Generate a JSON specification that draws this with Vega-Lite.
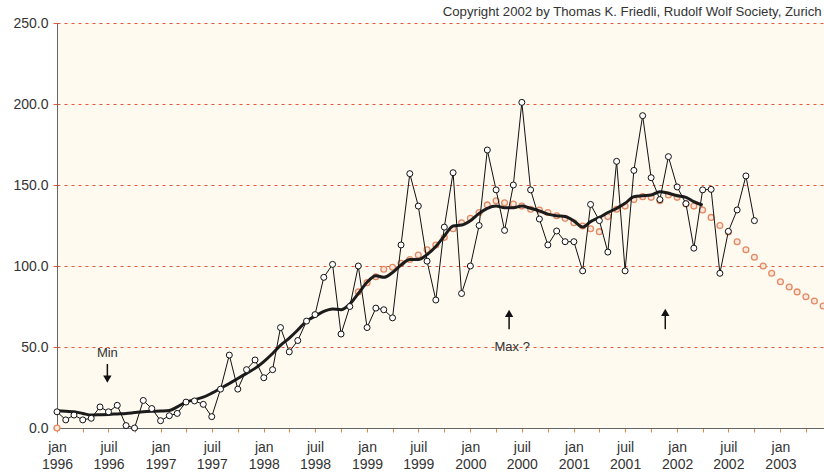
{
  "$schema": "https://vega.github.io/schema/vega-lite/v6.json",
  "width": 767,
  "height": 405,
  "autosize": {"type": "none"},
  "padding": {"left": 57, "top": 23, "right": 0, "bottom": 44},
  "background": "#ffffff",
  "title": {"text": "Copyright 2002 by Thomas K. Friedli, Rudolf Wolf Society, Zurich", "anchor": "end", "fontSize": 13.2, "fontWeight": "normal", "color": "#333333", "font": "Liberation Sans", "offset": 6, "dy": 9, "dx": -7},
  "config": {
    "view": {"fill": "#fffaf0", "stroke": null},
    "axis": {"labelFont": "Liberation Sans", "labelColor": "#333333", "domainColor": "#666666"}
  },
  "datasets": {
    "monthly": [
      {"date":"1996-01-01","v":10},{"date":"1996-02-01","v":5},{"date":"1996-03-01","v":8},{"date":"1996-04-01","v":5},{"date":"1996-05-01","v":6},{"date":"1996-06-01","v":13},{"date":"1996-07-01","v":10},{"date":"1996-08-01","v":14},{"date":"1996-09-01","v":1.5},{"date":"1996-10-01","v":0},{"date":"1996-11-01","v":17},{"date":"1996-12-01","v":12},
      {"date":"1997-01-01","v":4.5},{"date":"1997-02-01","v":7.6},{"date":"1997-03-01","v":9},{"date":"1997-04-01","v":16},{"date":"1997-05-01","v":16.7},{"date":"1997-06-01","v":14.6},{"date":"1997-07-01","v":7},{"date":"1997-08-01","v":24},{"date":"1997-09-01","v":45},{"date":"1997-10-01","v":24},{"date":"1997-11-01","v":36},{"date":"1997-12-01","v":42},
      {"date":"1998-01-01","v":31},{"date":"1998-02-01","v":36},{"date":"1998-03-01","v":62},{"date":"1998-04-01","v":47},{"date":"1998-05-01","v":54},{"date":"1998-06-01","v":66},{"date":"1998-07-01","v":70},{"date":"1998-08-01","v":93},{"date":"1998-09-01","v":101},{"date":"1998-10-01","v":58},{"date":"1998-11-01","v":75},{"date":"1998-12-01","v":100},
      {"date":"1999-01-01","v":62},{"date":"1999-02-01","v":74},{"date":"1999-03-01","v":73},{"date":"1999-04-01","v":68},{"date":"1999-05-01","v":113},{"date":"1999-06-01","v":157},{"date":"1999-07-01","v":137},{"date":"1999-08-01","v":103},{"date":"1999-09-01","v":79},{"date":"1999-10-01","v":124},{"date":"1999-11-01","v":157.6},{"date":"1999-12-01","v":83},
      {"date":"2000-01-01","v":100},{"date":"2000-02-01","v":125},{"date":"2000-03-01","v":171.6},{"date":"2000-04-01","v":147},{"date":"2000-05-01","v":122},{"date":"2000-06-01","v":150},{"date":"2000-07-01","v":201},{"date":"2000-08-01","v":147},{"date":"2000-09-01","v":129},{"date":"2000-10-01","v":113},{"date":"2000-11-01","v":121.6},{"date":"2000-12-01","v":115},
      {"date":"2001-01-01","v":115},{"date":"2001-02-01","v":97},{"date":"2001-03-01","v":138},{"date":"2001-04-01","v":128},{"date":"2001-05-01","v":108.6},{"date":"2001-06-01","v":164.6},{"date":"2001-07-01","v":97},{"date":"2001-08-01","v":159},{"date":"2001-09-01","v":192.8},{"date":"2001-10-01","v":154.5},{"date":"2001-11-01","v":141},{"date":"2001-12-01","v":167.5},
      {"date":"2002-01-01","v":148.8},{"date":"2002-02-01","v":138.5},{"date":"2002-03-01","v":111},{"date":"2002-04-01","v":147},{"date":"2002-05-01","v":147.3},{"date":"2002-06-01","v":95.5},{"date":"2002-07-01","v":121.4},{"date":"2002-08-01","v":134.6},{"date":"2002-09-01","v":155.6},{"date":"2002-10-01","v":128}
    ],
    "smoothed": [
      {"date":"1996-01-01","v":10.7},{"date":"1996-02-01","v":10.3},{"date":"1996-03-01","v":10},{"date":"1996-04-01","v":9},{"date":"1996-05-01","v":8},{"date":"1996-06-01","v":8.2},{"date":"1996-07-01","v":8.4},{"date":"1996-08-01","v":8.7},{"date":"1996-09-01","v":9},{"date":"1996-10-01","v":9.5},{"date":"1996-11-01","v":10},{"date":"1996-12-01","v":10.3},
      {"date":"1997-01-01","v":10.5},{"date":"1997-02-01","v":10.8},{"date":"1997-03-01","v":13},{"date":"1997-04-01","v":16},{"date":"1997-05-01","v":17.5},{"date":"1997-06-01","v":19},{"date":"1997-07-01","v":21.5},{"date":"1997-08-01","v":24.5},{"date":"1997-09-01","v":27.5},{"date":"1997-10-01","v":30.6},{"date":"1997-11-01","v":33.7},{"date":"1997-12-01","v":36.8},
      {"date":"1998-01-01","v":41},{"date":"1998-02-01","v":46},{"date":"1998-03-01","v":51},{"date":"1998-04-01","v":55.5},{"date":"1998-05-01","v":60.5},{"date":"1998-06-01","v":66},{"date":"1998-07-01","v":69},{"date":"1998-08-01","v":72},{"date":"1998-09-01","v":73.5},{"date":"1998-10-01","v":73},{"date":"1998-11-01","v":76.5},{"date":"1998-12-01","v":83},
      {"date":"1999-01-01","v":90},{"date":"1999-02-01","v":94},{"date":"1999-03-01","v":93},{"date":"1999-04-01","v":96},{"date":"1999-05-01","v":100.6},{"date":"1999-06-01","v":104},{"date":"1999-07-01","v":104},{"date":"1999-08-01","v":107},{"date":"1999-09-01","v":112},{"date":"1999-10-01","v":118.5},{"date":"1999-11-01","v":124.7},{"date":"1999-12-01","v":125.3},
      {"date":"2000-01-01","v":128},{"date":"2000-02-01","v":132.5},{"date":"2000-03-01","v":135.6},{"date":"2000-04-01","v":137},{"date":"2000-05-01","v":136},{"date":"2000-06-01","v":136},{"date":"2000-07-01","v":137},{"date":"2000-08-01","v":135.6},{"date":"2000-09-01","v":134},{"date":"2000-10-01","v":132},{"date":"2000-11-01","v":131},{"date":"2000-12-01","v":130.5},
      {"date":"2001-01-01","v":127.8},{"date":"2001-02-01","v":124},{"date":"2001-03-01","v":127.4},{"date":"2001-04-01","v":130},{"date":"2001-05-01","v":133},{"date":"2001-06-01","v":135.6},{"date":"2001-07-01","v":138.7},{"date":"2001-08-01","v":142.8},{"date":"2001-09-01","v":143.4},{"date":"2001-10-01","v":143.8},{"date":"2001-11-01","v":145.9},{"date":"2001-12-01","v":144.9},
      {"date":"2002-01-01","v":143.4},{"date":"2002-02-01","v":142.4},{"date":"2002-03-01","v":139.7},{"date":"2002-04-01","v":137.5}
    ],
    "predicted": [
      {"date":"1996-01-01","v":0},
      {"date":"1998-12-01","v":84},
      {"date":"1999-01-01","v":89.7},{"date":"1999-02-01","v":93.4},{"date":"1999-03-01","v":98},{"date":"1999-04-01","v":99.2},{"date":"1999-05-01","v":101.7},{"date":"1999-06-01","v":104},{"date":"1999-07-01","v":106.8},{"date":"1999-08-01","v":110},{"date":"1999-09-01","v":113},{"date":"1999-10-01","v":117.7},{"date":"1999-11-01","v":123},{"date":"1999-12-01","v":126.7},
      {"date":"2000-01-01","v":129.4},{"date":"2000-02-01","v":133},{"date":"2000-03-01","v":137.7},{"date":"2000-04-01","v":140.3},{"date":"2000-05-01","v":139},{"date":"2000-06-01","v":138.3},{"date":"2000-07-01","v":137},{"date":"2000-08-01","v":135},{"date":"2000-09-01","v":134.6},{"date":"2000-10-01","v":133},{"date":"2000-11-01","v":131},{"date":"2000-12-01","v":129.4},
      {"date":"2001-01-01","v":126.7},{"date":"2001-02-01","v":124.7},{"date":"2001-03-01","v":123},{"date":"2001-04-01","v":121.2},{"date":"2001-05-01","v":130.5},{"date":"2001-06-01","v":135},{"date":"2001-07-01","v":137},{"date":"2001-08-01","v":141},{"date":"2001-09-01","v":142.8},{"date":"2001-10-01","v":142.4},{"date":"2001-11-01","v":140.3},{"date":"2001-12-01","v":143.8},
      {"date":"2002-01-01","v":142.4},{"date":"2002-02-01","v":138.3},{"date":"2002-03-01","v":137},{"date":"2002-04-01","v":134.6},{"date":"2002-05-01","v":130},{"date":"2002-06-01","v":125},{"date":"2002-07-01","v":121},{"date":"2002-08-01","v":115},{"date":"2002-09-01","v":110},{"date":"2002-10-01","v":105.4},{"date":"2002-11-01","v":100},{"date":"2002-12-01","v":95.5},
      {"date":"2003-01-01","v":90.3},{"date":"2003-02-01","v":87},{"date":"2003-03-01","v":84},{"date":"2003-04-01","v":81},{"date":"2003-05-01","v":78.4},{"date":"2003-06-01","v":75.3}
    ],
    "arrows": [
      {"date":"1996-06-27","v":39.5,"v2":32,"head":30.2,"shape":"triangle-down"},
      {"date":"2000-05-17","v":69,"v2":61,"head":70.7,"shape":"triangle-up"},
      {"date":"2001-11-20","v":69.5,"v2":61,"head":71.3,"shape":"triangle-up"}
    ],
    "labels": [
      {"date":"1996-06-27","v":46.5,"label":"Min"},
      {"date":"2000-05-28","v":50.3,"label":"Max ?"}
    ]
  },
  "encoding": {
    "x": {
      "field": "date", "type": "temporal",
      "scale": {"type": "utc", "domain": [{"year":1996,"month":1,"date":1,"utc":true},{"year":2003,"month":6,"date":4,"utc":true}]},
      "axis": {
        "title": null,
        "tickCount": {"interval": "month", "step": 3},
        "labelExpr": "utcmonth(datum.value) == 0 ? ['jan', utcFormat(datum.value, '%Y')] : (utcmonth(datum.value) == 6 ? ['juil', utcFormat(datum.value, '%Y')] : '')",
        "labelFlush": false,
        "labelOverlap": false,
        "labelFontSize": 14,
        "labelLineHeight": 17,
        "labelPadding": 8,
        "tickColor": "#e8863a",
        "tickSize": 4,
        "grid": false,
        "domainColor": "#666666"
      }
    },
    "y": {
      "field": "v", "type": "quantitative",
      "scale": {"domain": [0, 250], "nice": false},
      "axis": {
        "title": null,
        "values": [0, 50, 100, 150, 200, 250],
        "format": ".1f",
        "labelFontSize": 14,
        "labelPadding": 5,
        "tickColor": "#e05a3a",
        "tickSize": 4,
        "grid": true,
        "gridColor": "#e05a3a",
        "gridDash": [3, 4],
        "gridWidth": 1,
        "domainColor": "#666666"
      }
    }
  },
  "layer": [
    {
      "data": {"name": "predicted"},
      "mark": {"type": "point", "shape": "circle", "filled": false, "stroke": "#e28a62", "fill": "#fbe8dc", "fillOpacity": 1, "strokeWidth": 1.3, "size": 34, "opacity": 1}
    },
    {
      "data": {"name": "smoothed"},
      "mark": {"type": "line", "color": "#1c1c1c", "strokeWidth": 3, "interpolate": "monotone"}
    },
    {
      "data": {"name": "monthly"},
      "mark": {"type": "line", "color": "#111111", "strokeWidth": 1}
    },
    {
      "data": {"name": "monthly"},
      "mark": {"type": "point", "shape": "circle", "filled": false, "stroke": "#111111", "fill": "#ffffff", "fillOpacity": 1, "strokeWidth": 1, "size": 36, "opacity": 1}
    },
    {
      "data": {"name": "arrows"},
      "mark": {"type": "rule", "color": "#111111", "strokeWidth": 1.5},
      "encoding": {"y2": {"field": "v2"}}
    },
    {
      "data": {"name": "arrows"},
      "mark": {"type": "point", "filled": true, "color": "#111111", "size": 70, "opacity": 1},
      "encoding": {"y": {"field": "head", "type": "quantitative"}, "shape": {"field": "shape", "type": "nominal", "scale": null}}
    },
    {
      "data": {"name": "labels"},
      "mark": {"type": "text", "font": "Liberation Sans", "fontSize": 13, "color": "#333333", "baseline": "middle", "align": "center"},
      "encoding": {"text": {"field": "label"}}
    }
  ]
}
